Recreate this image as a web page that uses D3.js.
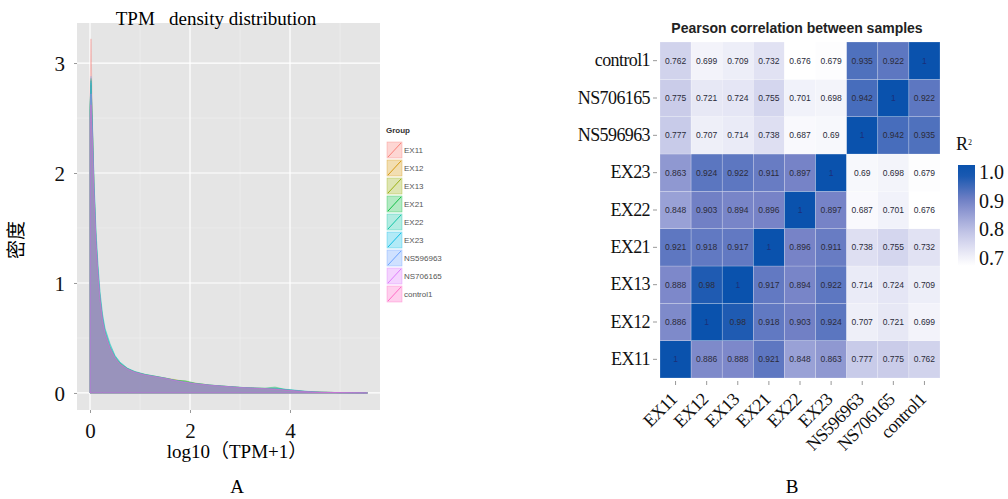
<!DOCTYPE html>
<html>
<head>
<meta charset="utf-8">
<script src="https://cdn.jsdelivr.net/npm/d3@7"></script>
<style>
  body { margin: 0; background: #fff; }
  svg { display: block; }
</style>
</head>
<body>
<div id="chart"></div>
<script>
// ---- data: panel A (density of log10(TPM+1)) ----
var groups = ["EX11", "EX12", "EX13", "EX21", "EX22", "EX23", "NS596963", "NS706165", "control1"];
var groupColors = ["#F8766D", "#D39200", "#93AA00", "#00BA38", "#00C19F", "#00B9E3", "#619CFF", "#DB72FB", "#FF61C3"];

var logTpm = [0, 0.02, 0.05, 0.08, 0.12, 0.16, 0.2, 0.25, 0.3, 0.4, 0.5, 0.6, 0.75, 0.9, 1.1, 1.3,
              1.5, 1.7, 1.9, 2.1, 2.4, 2.7, 3.0, 3.3, 3.5, 3.7, 3.9, 4.1, 4.3, 4.6, 5.0, 5.55];

var densEX11 = [2.72, 3.22, 2.45, 1.86, 1.36, 1.05, 0.83, 0.64, 0.53, 0.40, 0.31, 0.26, 0.21, 0.185, 0.16, 0.145,
                0.13, 0.11, 0.095, 0.082, 0.068, 0.058, 0.049, 0.042, 0.038, 0.033, 0.027, 0.019, 0.012, 0.006, 0.003, 0];
var densEX12 = [2.55, 2.80, 2.33, 1.84, 1.37, 1.07, 0.85, 0.66, 0.54, 0.41, 0.32, 0.26, 0.22, 0.19, 0.165, 0.15,
                0.135, 0.122, 0.1, 0.086, 0.07, 0.06, 0.05, 0.043, 0.04, 0.036, 0.028, 0.02, 0.013, 0.007, 0.003, 0];
var densEX13 = [2.58, 2.84, 2.36, 1.86, 1.39, 1.08, 0.86, 0.67, 0.55, 0.41, 0.32, 0.27, 0.22, 0.19, 0.166, 0.15,
                0.134, 0.116, 0.108, 0.09, 0.071, 0.06, 0.05, 0.044, 0.041, 0.04, 0.029, 0.021, 0.013, 0.007, 0.003, 0];
var densEX21 = [2.60, 2.86, 2.38, 1.88, 1.40, 1.10, 0.87, 0.68, 0.56, 0.42, 0.33, 0.27, 0.22, 0.19, 0.168, 0.152,
                0.135, 0.115, 0.112, 0.088, 0.072, 0.061, 0.051, 0.044, 0.043, 0.054, 0.032, 0.022, 0.014, 0.007, 0.003, 0];
var densEX22 = [2.56, 2.82, 2.40, 1.92, 1.46, 1.16, 0.92, 0.72, 0.59, 0.45, 0.34, 0.28, 0.225, 0.195, 0.17, 0.153,
                0.136, 0.116, 0.1, 0.087, 0.072, 0.061, 0.051, 0.045, 0.042, 0.046, 0.033, 0.024, 0.015, 0.007, 0.003, 0];
var densEX23 = [2.57, 2.84, 2.41, 1.93, 1.47, 1.15, 0.91, 0.71, 0.58, 0.44, 0.34, 0.28, 0.225, 0.194, 0.168, 0.152,
                0.135, 0.115, 0.099, 0.086, 0.071, 0.061, 0.051, 0.045, 0.041, 0.042, 0.034, 0.026, 0.016, 0.008, 0.003, 0];
var densNS596963 = [2.62, 2.88, 2.37, 1.86, 1.38, 1.08, 0.85, 0.66, 0.54, 0.40, 0.31, 0.26, 0.215, 0.185, 0.162, 0.147,
                    0.132, 0.113, 0.097, 0.084, 0.07, 0.06, 0.05, 0.043, 0.039, 0.035, 0.028, 0.02, 0.013, 0.006, 0.003, 0];
var densNS706165 = [2.50, 2.72, 2.30, 1.83, 1.37, 1.07, 0.85, 0.66, 0.54, 0.41, 0.32, 0.26, 0.215, 0.186, 0.163, 0.148,
                    0.133, 0.113, 0.097, 0.084, 0.07, 0.059, 0.049, 0.043, 0.039, 0.035, 0.027, 0.019, 0.012, 0.006, 0.003, 0];
var densControl1 = [2.45, 2.62, 2.26, 1.82, 1.37, 1.08, 0.86, 0.67, 0.55, 0.41, 0.32, 0.265, 0.218, 0.19, 0.165, 0.15,
                    0.134, 0.114, 0.098, 0.085, 0.071, 0.06, 0.05, 0.044, 0.04, 0.035, 0.028, 0.02, 0.013, 0.006, 0.003, 0];
var densities = [densEX11, densEX12, densEX13, densEX21, densEX22, densEX23, densNS596963, densNS706165, densControl1];

var xTicksA = [0, 2, 4];
var yTicksA = [0, 1, 2, 3];

// ---- data: panel B (Pearson correlation) ----
var samples = ["EX11", "EX12", "EX13", "EX21", "EX22", "EX23", "NS596963", "NS706165", "control1"];
// one row per sample (same order as samples), columns in the same order
var rEX11     = [1, 0.886, 0.888, 0.921, 0.848, 0.863, 0.777, 0.775, 0.762];
var rEX12     = [0.886, 1, 0.98, 0.918, 0.903, 0.924, 0.707, 0.721, 0.699];
var rEX13     = [0.888, 0.98, 1, 0.917, 0.894, 0.922, 0.714, 0.724, 0.709];
var rEX21     = [0.921, 0.918, 0.917, 1, 0.896, 0.911, 0.738, 0.755, 0.732];
var rEX22     = [0.848, 0.903, 0.894, 0.896, 1, 0.897, 0.687, 0.701, 0.676];
var rEX23     = [0.863, 0.924, 0.922, 0.911, 0.897, 1, 0.69, 0.698, 0.679];
var rNS596963 = [0.777, 0.707, 0.714, 0.738, 0.687, 0.69, 1, 0.942, 0.935];
var rNS706165 = [0.775, 0.721, 0.724, 0.755, 0.701, 0.698, 0.942, 1, 0.922];
var rControl1 = [0.762, 0.699, 0.709, 0.732, 0.676, 0.679, 0.935, 0.922, 1];
var corrRows = [rEX11, rEX12, rEX13, rEX21, rEX22, rEX23, rNS596963, rNS706165, rControl1];
var legendTicks = [0.7, 0.8, 0.9, 1.0];

var width = 1008, height = 499;
var serif = "'Liberation Serif', 'DejaVu Serif', serif";
var sans = "'Liberation Sans', Arial, sans-serif";

var svg = d3.select("#chart")
    .append("svg")
        .attr("width", width)
        .attr("height", height);

// ================= Panel A =================
var panelA = {left: 77, right: 380, top: 23, bottom: 410};

var x = d3.scaleLinear()
    .domain([-0.26, 5.8])
    .range([panelA.left, panelA.right]);
var y = d3.scaleLinear()
    .domain([-0.155, 3.364])
    .range([panelA.bottom, panelA.top]);

var chartA = svg.append("g");

chartA.append("rect")
    .attr("x", panelA.left)
    .attr("y", panelA.top)
    .attr("width", panelA.right - panelA.left)
    .attr("height", panelA.bottom - panelA.top)
    .attr("fill", "#e5e5e5");

// minor grid
chartA.selectAll(".minorx")
    .data([1, 3, 5])
    .enter().append("line")
    .attr("x1", function(d) { return x(d); })
    .attr("x2", function(d) { return x(d); })
    .attr("y1", panelA.top).attr("y2", panelA.bottom)
    .attr("stroke", "#f0f0f0").attr("stroke-width", 0.6);
chartA.selectAll(".minory")
    .data([0.5, 1.5, 2.5])
    .enter().append("line")
    .attr("y1", function(d) { return y(d); })
    .attr("y2", function(d) { return y(d); })
    .attr("x1", panelA.left).attr("x2", panelA.right)
    .attr("stroke", "#f0f0f0").attr("stroke-width", 0.6);
// major grid
chartA.selectAll(".majorx")
    .data(xTicksA)
    .enter().append("line")
    .attr("x1", function(d) { return x(d); })
    .attr("x2", function(d) { return x(d); })
    .attr("y1", panelA.top).attr("y2", panelA.bottom)
    .attr("stroke", "#ffffff").attr("stroke-width", 1.2);
chartA.selectAll(".majory")
    .data(yTicksA)
    .enter().append("line")
    .attr("y1", function(d) { return y(d); })
    .attr("y2", function(d) { return y(d); })
    .attr("x1", panelA.left).attr("x2", panelA.right)
    .attr("stroke", "#ffffff").attr("stroke-width", 1.2);

// density areas
var area = d3.area()
    .x(function(d) { return x(d[0]); })
    .y0(y(0))
    .y1(function(d) { return y(d[1]); });

groups.forEach(function(g, i) {
    var pts = logTpm.map(function(v, j) { return [v, densities[i][j]]; });
    chartA.append("path")
        .datum(pts)
        .attr("d", area)
        .attr("fill", groupColors[i])
        .attr("fill-opacity", 0.23)
        .attr("stroke", groupColors[i])
        .attr("stroke-opacity", 0.4)
        .attr("stroke-width", 0.8);
});

// axes
var xAxisA = chartA.append("g")
    .attr("transform", "translate(0," + panelA.bottom + ")")
    .call(d3.axisBottom(x).tickValues(xTicksA).tickSize(3).tickPadding(6).tickFormat(d3.format("d")));
var yAxisA = chartA.append("g")
    .attr("transform", "translate(" + panelA.left + ",0)")
    .call(d3.axisLeft(y).tickValues(yTicksA).tickSize(3).tickPadding(9).tickFormat(d3.format("d")));
[xAxisA, yAxisA].forEach(function(ax) {
    ax.select(".domain").remove();
    ax.selectAll(".tick line").attr("stroke", "#999");
    ax.selectAll("text")
        .style("font-family", serif)
        .style("font-size", "21px")
        .attr("fill", "#111");
});
xAxisA.selectAll("text").attr("dy", "0.9em");
yAxisA.selectAll("text").attr("dy", "0.35em");

chartA.append("text")
    .attr("x", 216)
    .attr("y", 25)
    .attr("text-anchor", "middle")
    .style("font-family", serif)
    .style("font-size", "19px")
    .attr("xml:space", "preserve")
    .text("TPM   density distribution");

chartA.append("text")
    .attr("transform", "translate(23,240) rotate(-90)")
    .attr("text-anchor", "middle")
    .style("font-family", "'Noto Sans CJK SC', sans-serif")
    .style("font-size", "19px")
    .text("密度");

chartA.append("text")
    .attr("x", 237)
    .attr("y", 458)
    .attr("text-anchor", "middle")
    .style("font-family", serif + ", 'Noto Sans CJK SC'")
    .style("font-size", "19px")
    .text("log10（TPM+1）");

chartA.append("text")
    .attr("x", 237)
    .attr("y", 493)
    .attr("text-anchor", "middle")
    .style("font-family", serif)
    .style("font-size", "19px")
    .text("A");

// legend
var legA = chartA.append("g").attr("transform", "translate(386,0)");
legA.append("text")
    .attr("x", 0).attr("y", 133)
    .style("font-family", sans)
    .style("font-size", "8px")
    .style("font-weight", "bold")
    .attr("fill", "#333")
    .text("Group");
var keys = legA.selectAll(".key")
    .data(groups)
    .enter().append("g")
    .attr("transform", function(d, i) { return "translate(0," + (142 + i * 18) + ")"; });
keys.append("rect")
    .attr("x", 1).attr("y", 0)
    .attr("width", 15).attr("height", 16)
    .attr("fill", function(d, i) { return groupColors[i]; })
    .attr("fill-opacity", 0.3)
    .attr("stroke", function(d, i) { return groupColors[i]; })
    .attr("stroke-opacity", 0.45)
    .attr("stroke-width", 0.7);
keys.append("line")
    .attr("x1", 2).attr("y1", 15)
    .attr("x2", 15).attr("y2", 1)
    .attr("stroke", function(d, i) { return groupColors[i]; })
    .attr("stroke-width", 0.9);
keys.append("text")
    .attr("x", 18).attr("y", 11)
    .style("font-family", sans)
    .style("font-size", "8px")
    .attr("fill", "#555")
    .text(function(d) { return d; });

// ================= Panel B =================
var grid = {left: 660, right: 940, top: 42, bottom: 378};

var hx = d3.scaleBand()
    .domain(samples)
    .range([grid.left, grid.right]);
var hy = d3.scaleBand()
    .domain(samples)
    .range([grid.bottom, grid.top]);

var color = d3.scaleLinear()
    .domain([0.676, 0.8, 0.9, 1])
    .range(["#ffffff", "#bcbfe4", "#7481c6", "#0a52ad"])
    .clamp(true);

var cells = [];
samples.forEach(function(rowName, i) {
    samples.forEach(function(colName, j) {
        cells.push({row: rowName, col: colName, r: corrRows[i][j]});
    });
});

var chartB = svg.append("g");

chartB.selectAll(".cell")
    .data(cells)
    .enter().append("rect")
    .attr("x", function(d) { return hx(d.col); })
    .attr("y", function(d) { return hy(d.row); })
    .attr("width", hx.bandwidth())
    .attr("height", hy.bandwidth())
    .attr("fill", function(d) { return color(d.r); })
    .attr("stroke", "#ffffff")
    .attr("stroke-opacity", 0.35)
    .attr("stroke-width", 0.6);

chartB.selectAll(".lbl")
    .data(cells)
    .enter().append("text")
    .attr("x", function(d) { return hx(d.col) + hx.bandwidth() / 2; })
    .attr("y", function(d) { return hy(d.row) + hy.bandwidth() / 2; })
    .attr("dy", "0.35em")
    .attr("text-anchor", "middle")
    .style("font-family", sans)
    .style("font-size", "8.5px")
    .attr("fill", function(d) { return d.r === 1 ? "#1a2f7a" : "#2b2b3a"; })
    .text(function(d) { return d.r; });

var xAxisB = chartB.append("g")
    .attr("transform", "translate(0," + (grid.bottom + 3) + ")")
    .call(d3.axisBottom(hx).tickSize(4).tickPadding(4));
xAxisB.selectAll("text")
    .attr("x", 0)
    .attr("y", 0)
    .attr("dy", "0.35em")
    .attr("transform", "translate(-2,15)rotate(-45)")
    .style("text-anchor", "end");

var yAxisB = chartB.append("g")
    .attr("transform", "translate(" + (grid.left - 3) + ",0)")
    .call(d3.axisLeft(hy).tickSize(4).tickPadding(3));

[xAxisB, yAxisB].forEach(function(ax) {
    ax.select(".domain").remove();
    ax.selectAll(".tick line").attr("stroke", "#999");
    ax.selectAll("text")
        .style("font-family", serif)
        .style("font-size", "18px")
        .style("letter-spacing", "-0.6px")
        .attr("fill", "#111");
});

chartB.append("text")
    .attr("x", 797)
    .attr("y", 33)
    .attr("text-anchor", "middle")
    .style("font-family", sans)
    .style("font-size", "14px")
    .style("font-weight", "bold")
    .attr("fill", "#222")
    .text("Pearson correlation between samples");

chartB.append("text")
    .attr("x", 792)
    .attr("y", 493)
    .attr("text-anchor", "middle")
    .style("font-family", serif)
    .style("font-size", "19px")
    .text("B");

// colour legend
var ly = d3.scaleLinear()
    .domain([1, 0.7])
    .range([172, 258]);
var defs = svg.append("defs");
var grad = defs.append("linearGradient")
    .attr("id", "rgrad")
    .attr("x1", 0).attr("y1", 1).attr("x2", 0).attr("y2", 0);
d3.range(0, 1.0001, 0.1).forEach(function(t) {
    var v = ly.invert(277 + (165 - 277) * t);
    grad.append("stop")
        .attr("offset", t)
        .attr("stop-color", color(v));
});
chartB.append("rect")
    .attr("x", 958)
    .attr("y", 165)
    .attr("width", 17)
    .attr("height", 112)
    .attr("fill", "url(#rgrad)");
chartB.selectAll(".ltick")
    .data(legendTicks)
    .enter().append("text")
    .attr("x", 979)
    .attr("y", function(d) { return ly(d); })
    .attr("dy", "0.35em")
    .style("font-family", serif)
    .style("font-size", "20px")
    .attr("fill", "#111")
    .text(function(d) { return d3.format(".1f")(d); });
var rTitle = chartB.append("text")
    .attr("x", 956)
    .attr("y", 150)
    .style("font-family", serif)
    .style("font-size", "18px")
    .attr("fill", "#111");
rTitle.append("tspan").text("R");
rTitle.append("tspan")
    .attr("dy", "-0.6em")
    .style("font-size", "8px")
    .text("2");
</script>
</body>
</html>
